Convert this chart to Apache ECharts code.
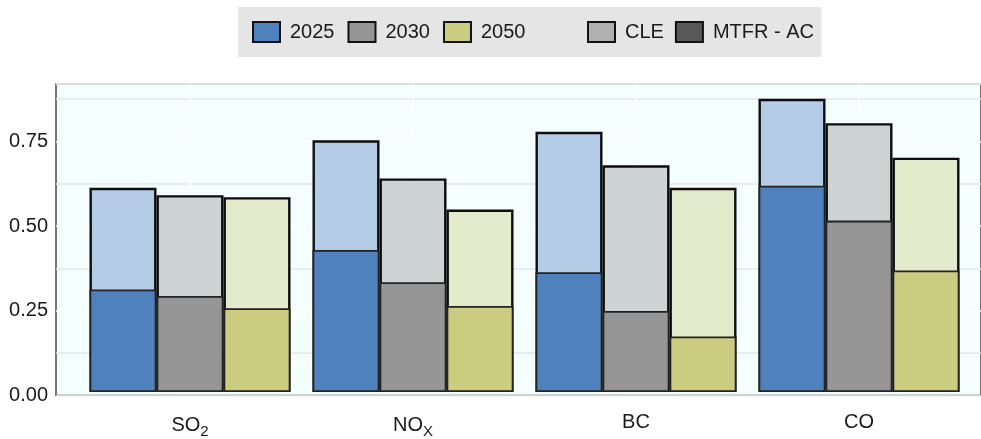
<!DOCTYPE html>
<html>
<head>
<meta charset="utf-8">
<script src="https://cdn.jsdelivr.net/npm/echarts@6/dist/echarts.min.js"></script>
<style>
  html, body { margin: 0; padding: 0; background: #ffffff; }
  #chart { width: 981px; height: 439px; }
</style>
</head>
<body>
<div id="chart"></div>
<script>
// Pollutants on the x axis (rich-text tokens give the subscripts)
const categories = ['SO{sub|2}', 'NO{sub|X}', 'BC', 'CO'];
const years = ['2025', '2030', '2050'];

// Emission levels under current legislation (CLE), per year
const cle2025 = [0.610, 0.752, 0.777, 0.876];
const cle2030 = [0.588, 0.638, 0.677, 0.803];
const cle2050 = [0.582, 0.545, 0.610, 0.700];

// Emission levels under maximum technically feasible reductions (MTFR - AC)
const mtfr2025 = [0.306, 0.424, 0.358, 0.616];
const mtfr2030 = [0.287, 0.328, 0.242, 0.512];
const mtfr2050 = [0.250, 0.257, 0.166, 0.363];

// y-axis tick labels shown
const yTicks = [0, 0.25, 0.5, 0.75];

const FONT = "'Liberation Sans', Arial, sans-serif";
const yMax = 0.92;

const strong = ['#4f81bd', '#959595', '#cbcc80'];
const light = ['#b4cce6', '#ced3d3', '#e3e9cb'];

const cleData = [cle2025, cle2030, cle2050];
const mtfrData = [mtfr2025, mtfr2030, mtfr2050];

const series = [];
years.forEach((y, i) => {
  series.push({
    name: 'CLE ' + y,
    type: 'bar',
    xAxisIndex: 0, yAxisIndex: 1,
    barWidth: 67, barGap: '0%',
    clip: false, z: 2,
    itemStyle: { color: light[i], borderColor: '#0d0d0d', borderWidth: 2.4 },
    data: cleData[i]
  });
});
years.forEach((y, i) => {
  series.push({
    name: 'MTFR ' + y,
    type: 'bar',
    xAxisIndex: 1, yAxisIndex: 1,
    barWidth: 67, barGap: '0%',
    clip: false, z: 3,
    itemStyle: { color: strong[i], borderColor: '#222222', borderWidth: 1.8 },
    data: mtfrData[i]
  });
});

// Empty series that only feed the legend entries
const legendItems = [
  { name: '2025', color: strong[0] },
  { name: '2030', color: strong[1] },
  { name: '2050', color: strong[2] },
  { name: 'CLE', color: '#b0b0b0' },
  { name: 'MTFR - AC', color: '#595959' }
];
legendItems.forEach(it => {
  series.push({
    name: it.name, type: 'bar', xAxisIndex: 2, yAxisIndex: 0,
    itemStyle: { color: it.color }, data: []
  });
});
const legendEntry = it => ({
  name: it.name,
  itemStyle: { color: it.color, borderColor: '#111111', borderWidth: 2 }
});

const legendText = { fontFamily: FONT, fontSize: 20, color: '#1a1a1a', padding: [0, 0, 0, 5] };

const chart = echarts.init(document.getElementById('chart'), null, { renderer: 'canvas' });
chart.setOption({
  animation: false,
  backgroundColor: '#ffffff',
  textStyle: { fontFamily: FONT },
  legend: [
    {
      left: 238, top: 7,
      orient: 'horizontal',
      selectedMode: false,
      backgroundColor: '#e5e5e5',
      padding: [14, 296, 14, 14],
      itemWidth: 27, itemHeight: 20, itemGap: 13,
      icon: 'rect',
      textStyle: legendText,
      data: legendItems.slice(0, 3).map(legendEntry)
    },
    {
      left: 573, top: 7, z: 10,
      selectedMode: false,
      padding: [14, 14, 14, 14],
      itemWidth: 27, itemHeight: 20, itemGap: 11,
      icon: 'rect',
      textStyle: legendText,
      data: legendItems.slice(3).map(legendEntry)
    }
  ],
  grid: [
    // panel: background, horizontal grid lines, frame
    { left: 56, top: 84, width: 937, bottom: 43.5, show: true,
      backgroundColor: '#f4fefe', borderColor: '#4a4a4a', borderWidth: 1.5 },
    // bars, centred on the pollutant positions
    { left: 190, top: 84, width: 669, bottom: 43.5 }
  ],
  xAxis: [
    {
      type: 'category', gridIndex: 1, data: categories, boundaryGap: false,
      axisLine: { show: false }, axisTick: { show: false },
      splitLine: { show: true, lineStyle: { color: '#ffffff', width: 1.5 } },
      axisLabel: {
        margin: 20, color: '#1a1a1a', fontFamily: FONT, fontSize: 20,
        rich: {
          sub: { fontFamily: FONT, fontSize: 15, color: '#1a1a1a', padding: [12, 0, 0, 0] }
        }
      }
    },
    {
      type: 'category', gridIndex: 1, data: categories, boundaryGap: false, show: false
    },
    {
      type: 'category', gridIndex: 0, data: [], show: false
    }
  ],
  yAxis: [
    {
      type: 'value', gridIndex: 0, min: 0, max: yMax, interval: 0.125,
      axisLine: { show: false }, axisTick: { show: false },
      splitLine: { show: true, lineStyle: { color: ['#ffffff', '#e6e6e6'], width: 1.5 } },
      axisLabel: {
        margin: 8, color: '#1a1a1a', fontFamily: FONT, fontSize: 20,
        showMaxLabel: false,
        formatter: v => yTicks.some(t => Math.abs(t - v) < 1e-6) ? v.toFixed(2) : ''
      }
    },
    {
      type: 'value', gridIndex: 1, min: 0, max: yMax, show: false
    }
  ],
  series: series
});
</script>
</body>
</html>
